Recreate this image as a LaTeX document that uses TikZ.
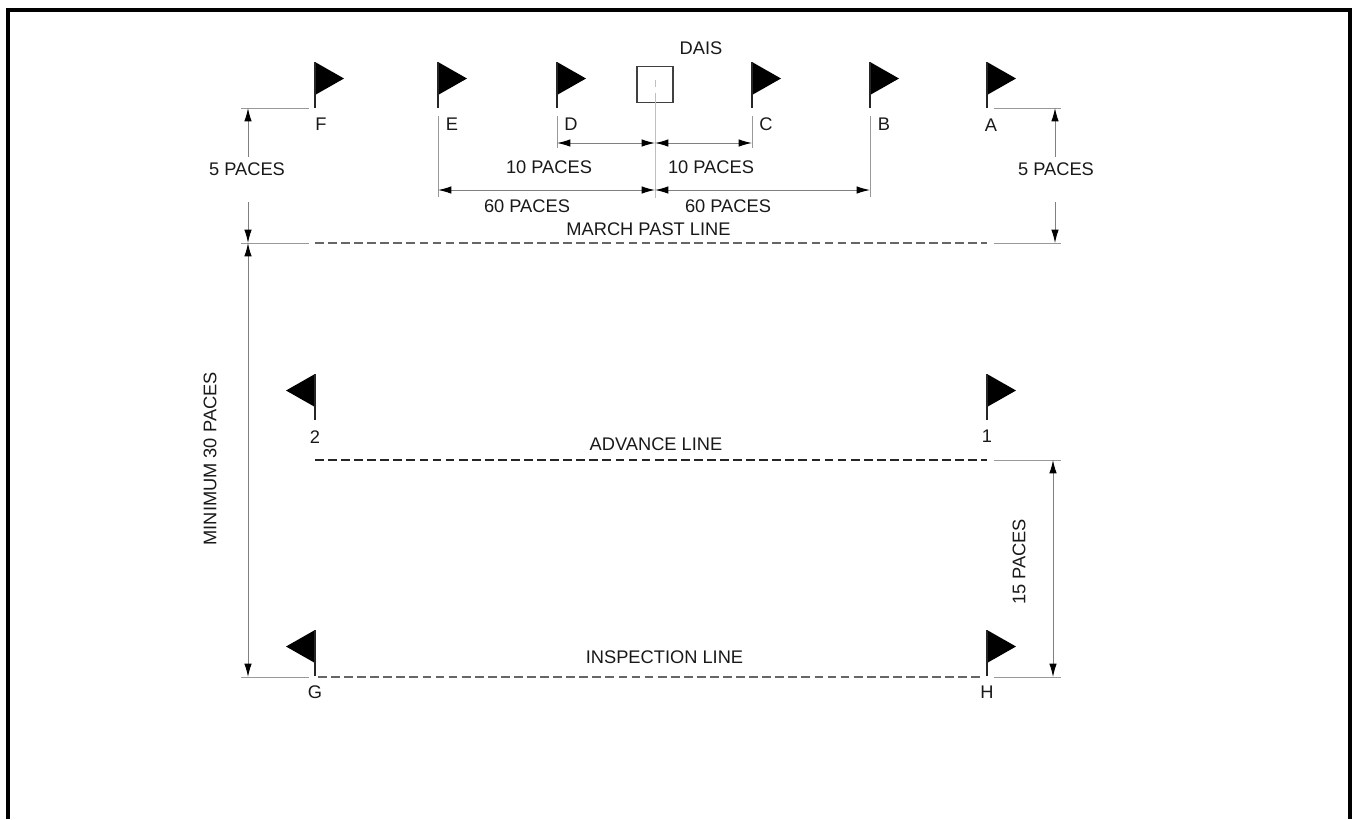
\documentclass[tikz,border=0pt]{standalone}
\usepackage{fontspec}
\setmainfont{Liberation Sans}
\usetikzlibrary{arrows.meta}

\begin{document}
\begin{tikzpicture}[
  x=0.75pt, y=-0.75pt,
  lbl/.style={inner sep=0pt, yshift=-0.6pt, font=\fontsize{13.7}{15}\selectfont, text=black!90},
  edge/.style={line width=0.7pt, black!40},
  post/.style={line width=0.9pt, black!85},
  dim/.style={{Latex[length=10pt,width=5.6pt,black]}-{Latex[length=10pt,width=5.6pt,black]}, line width=0.75pt, black!50},
  dimto/.style={-{Latex[length=10pt,width=5.6pt,black]}, line width=0.75pt, black!50},
  route/.style={line width=0.9pt, black!60, dash pattern=on 6.6pt off 3.2pt}]
  \useasboundingbox (0,0) rectangle (1354,819);
  \draw[line width=3pt, line join=miter] (8,819) -- (8,10) -- (1350,10) -- (1350,819);

  % flags pointing right and left, top of the pole given
  \foreach \n/\x/\y in {F/315/62, E/438/62, D/557/62, C/752/62, B/870/62, A/987/62, one/987/374, H/987/630} {
    \coordinate (\n) at (\x,\y);
    \fill (\n) -- ++(29,16.5) -- ++(-29,16.5) -- cycle;
    \draw[post] (\n) -- ++(0,46) coordinate (\n foot);
  }
  \foreach \n/\x/\y in {two/315/374, G/315/630} {
    \coordinate (\n) at (\x,\y);
    \fill (\n) -- ++(-29,16.5) -- ++(29,16.5) -- cycle;
    \draw[post] (\n) -- ++(0,46) coordinate (\n foot);
  }

  % letters
  \foreach \n/\x/\y/\t in {lF/321/123/F, lE/452/123/E, lD/571/123/D, lC/766/123/C, lB/884/123/B, lA/991/124/A, lG/315/691/G, lH/987/691/H, ltwo/315/436/2, lone/987/435/1}
    \node[lbl] (\n) at (\x,\y) {\t};

  % dais
  \node[draw, line width=0.9pt, black!75, minimum size=27pt, inner sep=0pt] (dais) at (655,84.5) {};
  \node[lbl] (daislbl) at (701,47) {DAIS};
  \coordinate (cl) at (655,198);
  \coordinate (cltop) at (655,93);
  \draw[edge, black!25] (655,80) -- (655,87);
  \draw[edge, black!25] (cltop) -- (cl);

  % pace lines under the flags
  \coordinate (Dlow) at (557,148);
  \coordinate (Clow) at (752,148);
  \coordinate (Elow) at (438,197);
  \coordinate (Blow) at (870,197);
  \draw[edge] (557,116) -- (Dlow);
  \draw[edge] (752,116) -- (Clow);
  \draw[edge] (438,116) -- (Elow);
  \draw[edge] (870,116) -- (Blow);

  \coordinate (m10) at (655,143);
  \coordinate (m60) at (655,190);
  \draw[dim] (557,143) -- (m10);
  \draw[dim] (m10) -- (752,143);
  \draw[dim] (438,190) -- (m60);
  \draw[dim] (m60) -- (870,190);
  \node[lbl] (d10) at (549,166) {10 PACES};
  \node[lbl] (c10) at (711,166) {10 PACES};
  \node[lbl] (e60) at (527,205) {60 PACES};
  \node[lbl] (b60) at (728,205) {60 PACES};

  % lines
  \coordinate (mpL) at (315,243);
  \coordinate (mpR) at (987,243);
  \coordinate (adL) at (315,460);
  \coordinate (adR) at (987,460);
  \coordinate (inL) at (318,677);
  \coordinate (inR) at (984,677);
  \draw[route] (mpL) -- (mpR);
  \draw[route, black!85] (adL) -- (adR);
  \draw[route, line width=1.2pt] (inL) -- (inR);
  \node[lbl] (mplbl) at (648.5,228) {MARCH PAST LINE};
  \node[lbl] (adlbl) at (656,443) {ADVANCE LINE};
  \node[lbl] (inlbl) at (664.5,656) {INSPECTION LINE};

  % extension lines left and right
  \foreach \y in {108,243,677} {
    \draw[edge] (241,\y) -- (309,\y);
  }
  \foreach \y in {108,243,460,677} {
    \draw[edge] (994,\y) -- (1061,\y);
  }

  % outer dimensions
  \coordinate (lu) at (248,157);
  \coordinate (ll) at (248,202);
  \coordinate (ru) at (1055,157);
  \coordinate (rl) at (1055,202);
  \draw[dimto] (lu) -- (248,108);
  \draw[dimto] (ll) -- (248,243);
  \draw[dimto] (ru) -- (1055,108);
  \draw[dimto] (rl) -- (1055,243);
  \node[lbl] (fivel) at (247,168) {5 PACES};
  \node[lbl] (fiver) at (1056,168) {5 PACES};
  \draw[dim] (248,243) -- (248,677);
  \draw[dim] (1053,460) -- (1053,677);
  \node[lbl, rotate=90] (minlbl) at (210,458) {MINIMUM 30 PACES};
  \node[lbl, rotate=90] (fifteen) at (1019,561) {15 PACES};
\end{tikzpicture}
\end{document}
